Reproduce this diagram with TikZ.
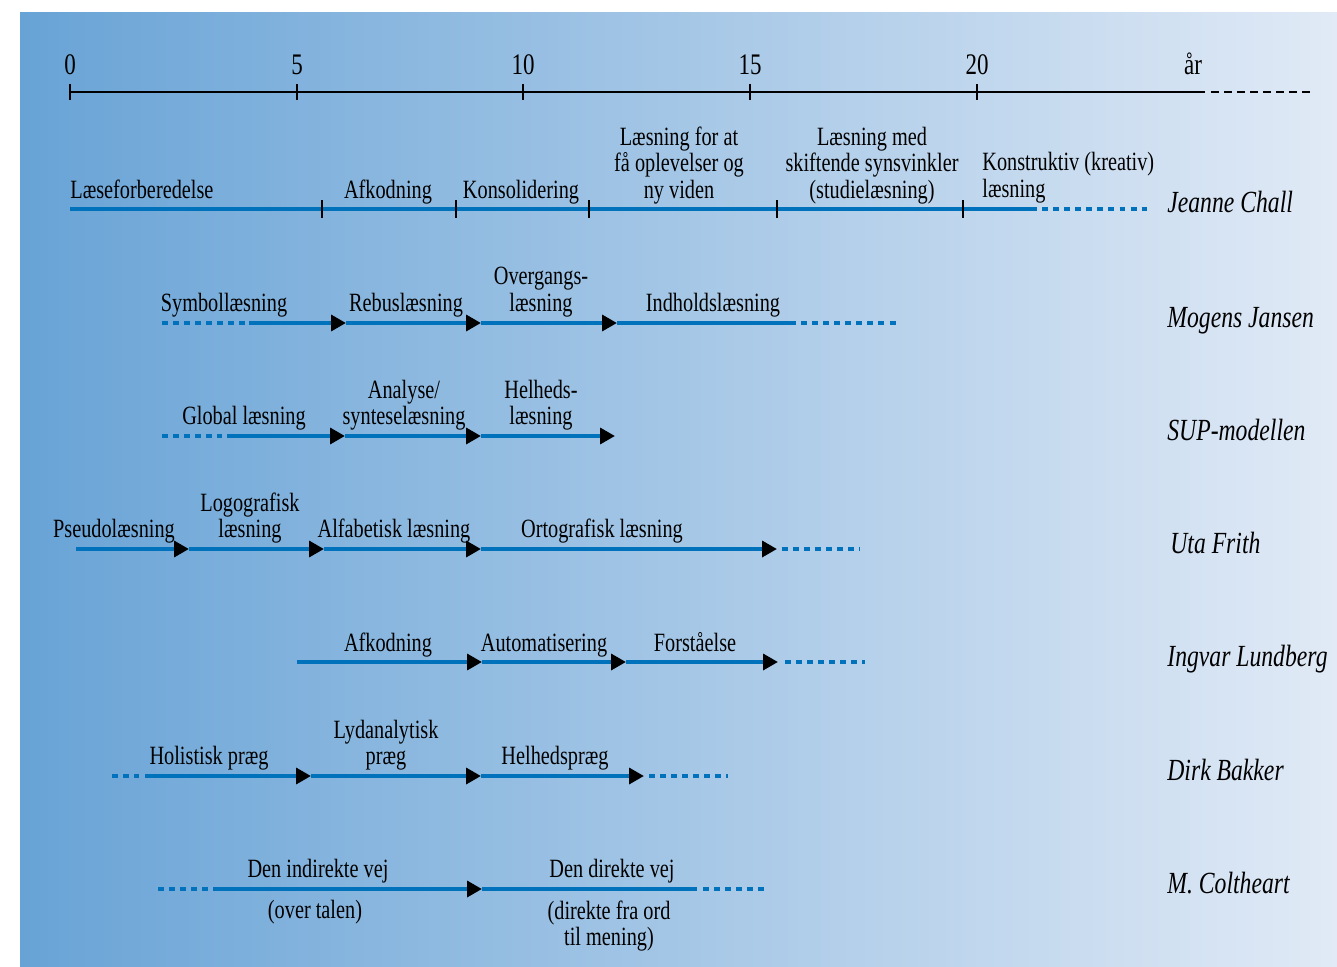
\documentclass[tikz,border=0pt]{standalone}
\usepackage{fontspec}
\setmainfont[FakeStretch=0.77]{Liberation Serif}
\usetikzlibrary{arrows.meta}

\definecolor{fadeleft}{RGB}{104,163,214}
\definecolor{fademid}{RGB}{176,203,234}
\definecolor{faderight}{RGB}{225,234,246}
\definecolor{phaseblue}{RGB}{0,114,187}

\tikzset{
  phaseline/.style={draw=phaseblue,line width=2.3pt},
  phasedots/.style={phaseline,dash pattern=on 3.4pt off 2.9pt},
  phasearrow/.style={phaseline,-{Triangle[color=black,length=8.5pt,width=9pt]}},
  lbl/.style={font=\fontsize{15}{14.8}\selectfont,inner sep=0pt,anchor=base,align=center},
  who/.style={font=\fontsize{17.5}{18}\selectfont\itshape,inner sep=0pt,anchor=base west},
  yr/.style={font=\fontsize{17}{18}\selectfont,inner sep=0pt,anchor=base},
  tick/.style={draw=black,line width=0.8pt}
}

\begin{document}
\begin{tikzpicture}[x=0.02cm,y=-0.02cm]
\useasboundingbox (0,0) rectangle (1337,966);
\fill[white] (0,0) rectangle (1337,966);
\shade[left color=fadeleft,middle color=fademid,right color=faderight] (20,13) rectangle (1337,966);

% age axis
\coordinate (t0) at (70,92);
\coordinate (t5) at (297,92);
\coordinate (t10) at (523,92);
\coordinate (t15) at (750,92);
\coordinate (t20) at (977,92);
\coordinate (tend) at (1205,92);
\coordinate (tgap) at (1211,92);
\coordinate (tdash) at (1313,92);
\draw[line width=1.5pt] (t0) -- (tend);
\draw[line width=1.5pt,dash pattern=on 4.6pt off 2.8pt] (tgap) -- (tdash);
\draw[tick] (t0) ++(0,-8) -- ++(0,16);
\draw[tick] (t5) ++(0,-8) -- ++(0,16);
\draw[tick] (t10) ++(0,-8) -- ++(0,16);
\draw[tick] (t15) ++(0,-8) -- ++(0,16);
\draw[tick] (t20) ++(0,-8) -- ++(0,16);
\node[yr] (y0) at (70,75) {0};
\node[yr] (y5) at (297,75) {5};
\node[yr] (y10) at (523,75) {10};
\node[yr] (y15) at (750,75) {15};
\node[yr] (y20) at (977,75) {20};
\node[yr] (yar) at (1193,75) {år};

% Jeanne Chall
\coordinate (c0) at (70,209);
\coordinate (c1) at (322,209);
\coordinate (c2) at (456,209);
\coordinate (c3) at (589,209);
\coordinate (c4) at (777,209);
\coordinate (c5) at (963,209);
\coordinate (c6) at (1037,209);
\coordinate (c7) at (1042,209);
\coordinate (c8) at (1147,209);
\draw[phaseline] (c0) -- (c6);
\draw[phasedots] (c7) -- (c8);
\draw[tick] (c1) ++(0,-9) -- ++(0,18);
\draw[tick] (c2) ++(0,-9) -- ++(0,18);
\draw[tick] (c3) ++(0,-9) -- ++(0,18);
\draw[tick] (c4) ++(0,-9) -- ++(0,18);
\draw[tick] (c5) ++(0,-9) -- ++(0,18);
\node[lbl,anchor=base west] (forb) at (70,198) {Læseforberedelse};
\node[lbl] (afkA) at (388,198) {Afkodning};
\node[lbl] (kons) at (521,198) {Konsolidering};
\node[lbl] (oplev) at (679,198) {Læsning for at\\få oplevelser og\\ny viden};
\node[lbl] (synsv) at (872,198) {Læsning med\\skiftende synsvinkler\\(studielæsning)};
\node[lbl,anchor=base west,align=left] (konstr) at (982,197) {Konstruktiv (kreativ)\\læsning};
\node[who] (chall) at (1167,213) {Jeanne Chall};

% Mogens Jansen
\coordinate (m0) at (162,323);
\coordinate (m1) at (245,323);
\coordinate (m2) at (249,323);
\coordinate (m3) at (346,323);
\coordinate (m4) at (481,323);
\coordinate (m5) at (617,323);
\coordinate (m6) at (796,323);
\coordinate (m7) at (801,323);
\coordinate (m8) at (897,323);
\draw[phasedots] (m0) -- (m1);
\draw[phasearrow] (m2) -- (m3);
\draw[phasearrow] (m3) -- (m4);
\draw[phasearrow] (m4) -- (m5);
\draw[phaseline] (m5) -- (m6);
\draw[phasedots] (m7) -- (m8);
\node[lbl] (symb) at (224,311) {Symbollæsning};
\node[lbl] (rebus) at (406,311) {Rebuslæsning};
\node[lbl] (overg) at (541,311) {Overgangs-\\læsning};
\node[lbl] (indh) at (713,311) {Indholdslæsning};
\node[who] (jansen) at (1167,327) {Mogens Jansen};

% SUP-modellen
\coordinate (s0) at (162,436);
\coordinate (s1) at (222,436);
\coordinate (s2) at (227,436);
\coordinate (s3) at (345,436);
\coordinate (s4) at (481,436);
\coordinate (s5) at (615,436);
\draw[phasedots] (s0) -- (s1);
\draw[phasearrow] (s2) -- (s3);
\draw[phasearrow] (s3) -- (s4);
\draw[phasearrow] (s4) -- (s5);
\node[lbl] (glob) at (244,424) {Global læsning};
\node[lbl] (anal) at (404,424) {Analyse/\\synteselæsning};
\node[lbl] (helh) at (541,424) {Helheds-\\læsning};
\node[who] (sup) at (1167,440) {SUP-modellen};

% Uta Frith
\coordinate (f0) at (76,549);
\coordinate (f1) at (189,549);
\coordinate (f2) at (324,549);
\coordinate (f3) at (481,549);
\coordinate (f4) at (777,549);
\coordinate (f5) at (782,549);
\coordinate (f6) at (860,549);
\draw[phasearrow] (f0) -- (f1);
\draw[phasearrow] (f1) -- (f2);
\draw[phasearrow] (f2) -- (f3);
\draw[phasearrow] (f3) -- (f4);
\draw[phasedots] (f5) -- (f6);
\node[lbl] (pseudo) at (114,537) {Pseudolæsning};
\node[lbl] (logo) at (250,537) {Logografisk\\læsning};
\node[lbl] (alfa) at (394,537) {Alfabetisk læsning};
\node[lbl] (orto) at (602,537) {Ortografisk læsning};
\node[who] (frith) at (1170,553) {Uta Frith};

% Ingvar Lundberg
\coordinate (g0) at (297,662);
\coordinate (g1) at (482,662);
\coordinate (g2) at (626,662);
\coordinate (g3) at (778,662);
\coordinate (g4) at (785,662);
\coordinate (g5) at (865,662);
\draw[phasearrow] (g0) -- (g1);
\draw[phasearrow] (g1) -- (g2);
\draw[phasearrow] (g2) -- (g3);
\draw[phasedots] (g4) -- (g5);
\node[lbl] (afkB) at (388,651) {Afkodning};
\node[lbl] (autom) at (544,651) {Automatisering};
\node[lbl] (forst) at (695,651) {Forståelse};
\node[who] (lundb) at (1167,666) {Ingvar Lundberg};

% Dirk Bakker
\coordinate (b0) at (112,776);
\coordinate (b1) at (139,776);
\coordinate (b2) at (145,776);
\coordinate (b3) at (311,776);
\coordinate (b4) at (481,776);
\coordinate (b5) at (644,776);
\coordinate (b6) at (649,776);
\coordinate (b7) at (728,776);
\draw[phasedots] (b0) -- (b1);
\draw[phasearrow] (b2) -- (b3);
\draw[phasearrow] (b3) -- (b4);
\draw[phasearrow] (b4) -- (b5);
\draw[phasedots] (b6) -- (b7);
\node[lbl] (holist) at (209,764) {Holistisk præg};
\node[lbl] (lydan) at (386,764) {Lydanalytisk\\præg};
\node[lbl] (helhp) at (555,764) {Helhedspræg};
\node[who] (bakker) at (1167,780) {Dirk Bakker};

% M. Coltheart
\coordinate (k0) at (158,889);
\coordinate (k1) at (209,889);
\coordinate (k2) at (213,889);
\coordinate (k3) at (482,889);
\coordinate (k4) at (697,889);
\coordinate (k5) at (703,889);
\coordinate (k6) at (765,889);
\draw[phasedots] (k0) -- (k1);
\draw[phasearrow] (k2) -- (k3);
\draw[phaseline] (k3) -- (k4);
\draw[phasedots] (k5) -- (k6);
\node[lbl] (indir) at (318,877) {Den indirekte vej};
\node[lbl] (direk) at (612,877) {Den direkte vej};
\node[lbl] (overt) at (315,918) {(over talen)};
\node[lbl] (fraord) at (609,945) {(direkte fra ord\\til mening)};
\node[who] (colth) at (1167,893) {M. Coltheart};
\end{tikzpicture}
\end{document}
